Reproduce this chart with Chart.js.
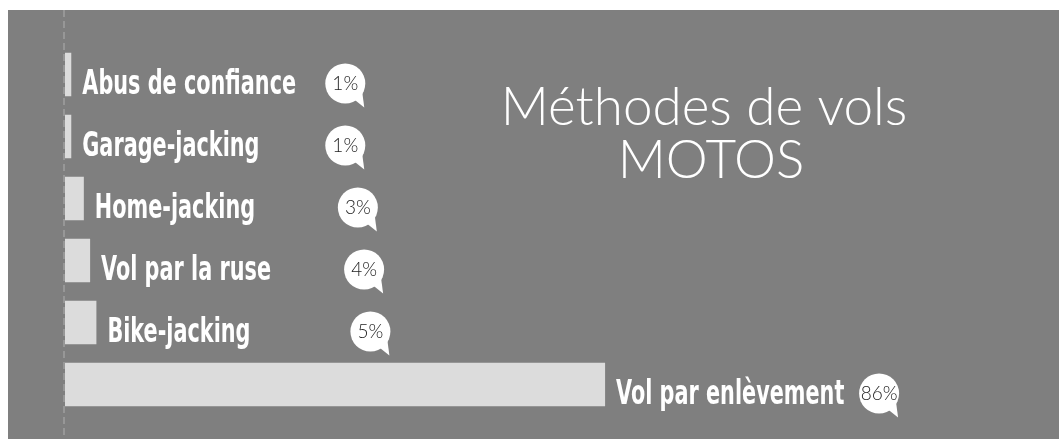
<!DOCTYPE html>
<html>
<head>
<meta charset="utf-8">
<script src="https://cdn.jsdelivr.net/npm/chart.js@4.4.1/dist/chart.umd.min.js"></script>
<style>
	html, body { margin: 0; padding: 0; background: #fff; }
	#wrap { position: absolute; left: 8px; top: 10px; width: 1051px; height: 429px; background: #7f7f7f; }
</style>
</head>
<body>
<div id="wrap"><canvas id="vols-motos" width="1051" height="429"></canvas></div>
<script>
// Méthodes de vols de motos, part de chaque méthode en %
var methodes = ['Abus de confiance', 'Garage-jacking', 'Home-jacking', 'Vol par la ruse', 'Bike-jacking', 'Vol par enlèvement'];
var parts = [1, 1, 3, 4, 5, 86];
var titre = ['Méthodes de vols', 'MOTOS'];

// Labels, bulles de pourcentage, ligne de base pointillée et titre
var habillage = {
	id: 'habillage',
	beforeDatasetsDraw: function(chart) {
		var ctx = chart.ctx;
		var x0 = chart.scales.x.getPixelForValue(0) - 1;
		ctx.save();
		ctx.strokeStyle = '#979797';
		ctx.lineWidth = 2;
		ctx.setLineDash([7, 4]);
		ctx.beginPath();
		ctx.moveTo(x0, 0);
		ctx.lineTo(x0, chart.height);
		ctx.stroke();
		ctx.restore();
	},
	afterDatasetsDraw: function(chart) {
		var ctx = chart.ctx;
		var meta = chart.getDatasetMeta(0);
		meta.data.forEach(function(bar, i) {
			var xEnd = bar.x, yMid = bar.y;
			ctx.save();
			// nom de la méthode (police condensée, resserrée)
			ctx.fillStyle = '#fff';
			ctx.font = 'bold 34px "DejaVu Sans Condensed", sans-serif';
			ctx.textBaseline = 'alphabetic';
			ctx.translate(xEnd + 11, yMid + 19);
			ctx.scale(0.68, 1);
			ctx.fillText(methodes[i], 0, 0);
			ctx.restore();

			// bulle
			ctx.save();
			ctx.fillStyle = '#fff';
			var bx = xEnd + 274, by = yMid + 9;
			ctx.beginPath();
			ctx.arc(bx, by, 20, 0, Math.PI * 2);
			ctx.fill();
			ctx.beginPath();
			ctx.moveTo(bx + 9, by + 16);
			ctx.lineTo(bx + 19, by + 24);
			ctx.lineTo(bx + 17, by + 9);
			ctx.closePath();
			ctx.fill();
			ctx.fillStyle = '#222';
			ctx.font = '300 19px Lato, sans-serif';
			ctx.textAlign = 'center';
			ctx.textBaseline = 'middle';
			ctx.fillText(parts[i] + '%', bx, by);
			ctx.restore();
		});
	},
	afterDraw: function(chart) {
		var ctx = chart.ctx;
		ctx.save();
		ctx.fillStyle = '#fff';
		ctx.font = '300 53px Lato, sans-serif';
		ctx.textAlign = 'center';
		ctx.fillText(titre[0], 696, 115);
		ctx.fillText(titre[1], 703, 168);
		ctx.restore();
	}
};

var ctx = document.getElementById('vols-motos');
var cfg = {
	type: 'bar',
	data: {
		labels: methodes,
		datasets: [{
			data: parts,
			backgroundColor: '#dcdcdc',
			borderWidth: 0,
			barPercentage: 0.7,
			categoryPercentage: 1
		}]
	},
	options: {
		indexAxis: 'y',
		responsive: false,
		animation: false,
		layout: { padding: { left: 57, right: 52, top: 33.5, bottom: 23.5 } },
		plugins: {
			legend: { display: false },
			tooltip: { enabled: false },
			title: { display: false }
		},
		scales: {
			x: { display: false, min: 0, max: 150 },
			y: { display: false }
		}
	},
	plugins: [habillage]
};
new Chart(ctx, cfg);
</script>
</body>
</html>
